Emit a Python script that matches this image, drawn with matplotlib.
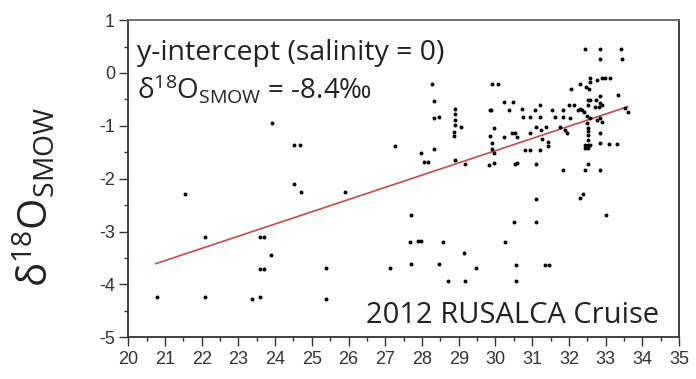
import matplotlib
matplotlib.use("Agg")
import matplotlib.pyplot as plt
from matplotlib.ticker import MultipleLocator

# salinity / d18O samples
salinity = [
    20.77, 21.54, 22.09, 22.09, 23.59, 23.70, 23.90, 23.59, 23.70, 23.37, 23.59,
    24.51, 24.70, 23.91, 24.52, 24.68, 25.90, 25.39, 25.39,
    27.26, 28.27, 28.34, 28.34, 28.47, 27.98, 28.34, 28.05, 28.17,
    28.91, 28.91, 28.91, 28.91, 28.87, 28.87, 29.07, 28.91, 29.18,
    29.90, 30.08, 29.88, 29.97, 29.84, 29.90, 29.90, 29.82, 29.95,
    27.69, 27.68, 27.90, 27.97, 28.57, 29.15, 30.25, 27.13, 27.69, 28.47,
    29.46, 28.71, 29.18, 30.55, 30.56, 31.34, 31.46, 30.51, 31.10, 31.10,
    32.31, 32.39, 33.02,
    32.44, 32.85, 33.42, 32.85, 33.44,
    32.58, 32.58, 32.76, 32.90, 32.99, 33.12,
    32.29, 32.05, 32.47, 32.56, 33.35, 32.85,
    32.52, 32.58, 32.74, 32.85, 32.53, 32.70, 32.81, 32.90, 32.31, 32.40,
    32.49, 32.58, 32.76, 32.85, 32.90, 32.49, 32.53,
    33.53, 33.62,
    32.51, 32.51, 32.51, 32.44, 32.51, 32.58, 32.44, 32.53,
    32.85, 32.85, 33.08, 33.31,
    32.53, 32.44, 32.85, 31.85,
    30.22, 30.47, 29.86, 30.36, 30.72, 31.22,
    30.75, 30.95, 31.22, 31.08,
    31.54, 31.84, 31.99, 32.13, 32.26, 32.35,
    31.63, 31.85, 32.04,
    31.11, 31.24, 31.38, 30.95, 30.58, 30.22, 30.45, 30.54, 31.26,
    31.76, 31.90, 31.96,
    30.81, 30.93, 31.22, 31.44, 31.44,
    29.95, 30.54, 30.58, 31.11,
]
d18o = [
    -4.24, -2.29, -3.11, -4.24, -3.11, -3.11, -3.44, -3.71, -3.71, -4.27, -4.24,
    -2.10, -2.26, -0.94, -1.36, -1.36, -2.26, -3.69, -4.27,
    -1.38, -0.21, -0.53, -0.86, -0.84, -1.51, -1.44, -1.69, -1.69,
    -0.69, -0.78, -0.89, -0.98, -1.11, -1.19, -1.03, -1.65, -1.72,
    -0.21, -0.21, -0.71, -1.05, -1.19, -1.33, -1.44, -1.74, -1.71,
    -2.69, -3.20, -3.18, -3.18, -3.20, -3.41, -3.20, -3.69, -3.62, -3.62,
    -3.69, -3.93, -3.93, -3.93, -3.64, -3.64, -3.64, -2.81, -2.39, -2.81,
    -2.36, -2.29, -2.69,
    0.45, 0.45, 0.45, 0.26, 0.26,
    -0.10, -0.17, -0.13, -0.10, -0.10, -0.10,
    -0.20, -0.30, -0.27, -0.30, -0.42, -0.44,
    -0.52, -0.52, -0.52, -0.56, -0.61, -0.64, -0.64, -0.61, -0.69, -0.73,
    -0.81, -0.86, -0.89, -0.86, -0.92, -0.95, -1.05,
    -0.66, -0.73,
    -1.09, -1.17, -1.26, -1.36, -1.36, -1.36, -1.41, -1.41,
    -1.14, -1.33, -1.34, -1.34,
    -1.72, -1.84, -1.84, -1.84,
    -0.54, -0.54, -0.70, -0.70, -0.69, -0.61,
    -0.84, -0.84, -0.84, -0.70,
    -0.70, -0.70, -0.61, -0.61, -0.70, -0.70,
    -0.84, -0.84, -0.86,
    -1.03, -1.07, -1.03, -1.13, -1.22, -1.21, -1.14, -1.13, -1.24,
    -1.02, -1.08, -1.14,
    -1.46, -1.46, -1.46, -1.38, -1.30,
    -1.52, -1.72, -1.70, -1.72,
]

# regression line (y-intercept at salinity = 0)
fit_intercept = -8.4
fit_slope = 0.231
fit_range = [20.75, 33.6]

x_ticks = list(range(20, 36))
y_ticks = list(range(-5, 2))

plt.rcParams['font.family'] = ['Liberation Sans', 'DejaVu Sans']
plt.rcParams['mathtext.default'] = 'regular'
plt.rcParams['axes.unicode_minus'] = False

fig = plt.figure(figsize=(6.96, 3.79), dpi=100)
ax = fig.add_axes([0.1843, 0.110, 0.7913, 0.837])

ax.scatter(salinity, d18o, s=8, color='black', linewidths=0, zorder=3)
fit_y = [fit_intercept + fit_slope * s for s in fit_range]
ax.plot(fit_range, fit_y, color='#c9474a', lw=1.2, zorder=2)

ax.set_xlim(20, 35)
ax.set_ylim(-5, 1)
ax.set_xticks(x_ticks)
ax.set_yticks(y_ticks)
ax.xaxis.set_minor_locator(MultipleLocator(0.5))
ax.yaxis.set_minor_locator(MultipleLocator(0.5))
ax.tick_params(which='major', length=6.5, width=1.0, color='#333333',
               labelsize=13, labelcolor='#333333', pad=3)
ax.tick_params(which='minor', length=3, width=1.0, color='#333333')
for side in ax.spines.values():
    side.set_color('#333333')
    side.set_linewidth(1.3)
ax.spines['top'].set_color('#666666')

txt_font = ['Open Sans', 'DejaVu Sans']
ax.text(0.016, 0.874, 'y-intercept (salinity = 0)', transform=ax.transAxes,
        fontsize=20.5, family=txt_font, color='#222222', va='baseline')
ax.text(0.016, 0.754, '$δ^{18}O_{SMOW}$ = -8.4‰', transform=ax.transAxes,
        fontsize=20, family=txt_font, color='#222222', va='baseline')
ax.text(0.964, 0.046, '2012 RUSALCA Cruise', transform=ax.transAxes,
        fontsize=21, family=txt_font, color='#222222', ha='right', va='baseline')

fig.text(0.05, 0.48, '$δ^{18}O_{SMOW}$', rotation=90, fontsize=29,
         family=txt_font, color='#222222', ha='center', va='center')

fig.savefig('out.png', dpi=100)
